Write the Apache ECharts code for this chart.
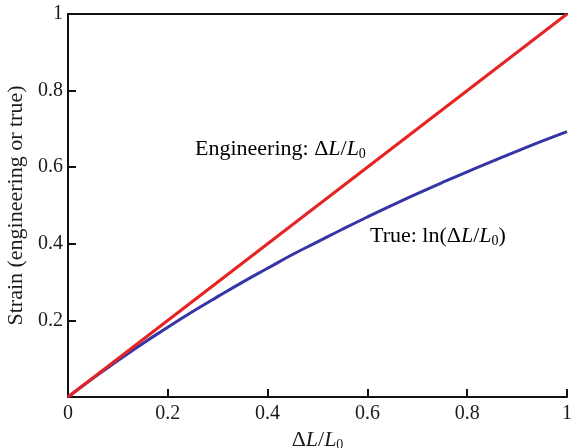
<!DOCTYPE html>
<html>
<head>
<meta charset="utf-8">
<script src="https://cdn.jsdelivr.net/npm/echarts@6/dist/echarts.min.js"></script>
<style>html,body{margin:0;padding:0;background:#fff}#c{width:571px;height:448px}</style>
</head>
<body>
<div id="c"></div>
<script>
// Data
var xTicks = [0, 0.2, 0.4, 0.6, 0.8, 1];
var yTicks = [0.2, 0.4, 0.6, 0.8, 1];
var engX = [0, 1];
var engY = [0, 1];
var trueX = [0, 0.05, 0.1, 0.15, 0.2, 0.25, 0.3, 0.35, 0.4, 0.45, 0.5, 0.55, 0.6, 0.65, 0.7, 0.75, 0.8, 0.85, 0.9, 0.95, 1];
var trueY = [0, 0.049, 0.095, 0.140, 0.182, 0.223, 0.262, 0.300, 0.336, 0.372, 0.405, 0.438, 0.470, 0.501, 0.531, 0.560, 0.588, 0.615, 0.642, 0.668, 0.693];
var engLabel = 'Engineering: ';
var trueLabel = 'True: ln(';

function pairs(xs, ys) { return xs.map(function (x, i) { return [x, ys[i]]; }); }

var serif = '"Liberation Serif", "DejaVu Serif", serif';
var rich = {
  n: { fontFamily: serif, fontSize: 22, color: '#1a1a1a' },
  i: { fontFamily: serif, fontSize: 22, fontStyle: 'italic', color: '#1a1a1a' },
  s: { fontFamily: serif, fontSize: 14, color: '#1a1a1a', verticalAlign: 'bottom', padding: [10, 0, 0, 0] }
};

var chart = echarts.init(document.getElementById('c'));
chart.setOption({
  animation: false,
  grid: { left: 68, right: 4, top: 14, bottom: 51, containLabel: false, outerBoundsMode: 'none' },
  xAxis: [{
    type: 'value', min: 0, max: 1, interval: 0.2,
    axisLine: { show: true, lineStyle: { color: '#111', width: 2 } },
    axisTick: { show: true, inside: true, length: 8, lineStyle: { color: '#111', width: 2 } },
    splitLine: { show: false },
    axisLabel: { fontFamily: serif, fontSize: 20, color: '#1a1a1a', margin: 7,
      formatter: function (v) { return String(v); } },
    name: '{n|Δ}{i|L}{n|/}{i|L}{s|0}',
    nameLocation: 'middle', nameGap: 31,
    nameTextStyle: { rich: rich }
  }, {
    type: 'value', min: 0, max: 1, position: 'top',
    axisLine: { show: true, lineStyle: { color: '#111', width: 2 } },
    axisTick: { show: false }, axisLabel: { show: false }, splitLine: { show: false }
  }],
  yAxis: {
    type: 'value', min: 0, max: 1, interval: 0.2,
    axisLine: { show: true, lineStyle: { color: '#111', width: 2 } },
    axisTick: { show: true, inside: true, length: 8, lineStyle: { color: '#111', width: 2 } },
    splitLine: { show: false },
    axisLabel: { fontFamily: serif, fontSize: 20, color: '#1a1a1a', margin: 5, showMinLabel: false,
      formatter: function (v) { return String(v); } },
    name: 'Strain (engineering or true)',
    nameLocation: 'middle', nameGap: 40,
    nameTextStyle: { fontFamily: serif, fontSize: 22, color: '#1a1a1a' }
  },
  series: [{
    type: 'line', data: pairs(engX, engY), showSymbol: false,
    lineStyle: { color: '#e62222', width: 3 }, z: 3
  }, {
    type: 'line', data: pairs(trueX, trueY), showSymbol: false, smooth: true,
    lineStyle: { color: '#3535a8', width: 3 }, z: 2
  }],
  graphic: [{
    type: 'text', left: 195, top: 138,
    style: { text: '{n|' + engLabel + 'Δ}{i|L}{n|/}{i|L}{s|0}', rich: rich }
  }, {
    type: 'text', left: 370, top: 225,
    style: { text: '{n|' + trueLabel + 'Δ}{i|L}{n|/}{i|L}{s|0}{n|)}', rich: rich }
  }]
});
</script>
</body>
</html>
